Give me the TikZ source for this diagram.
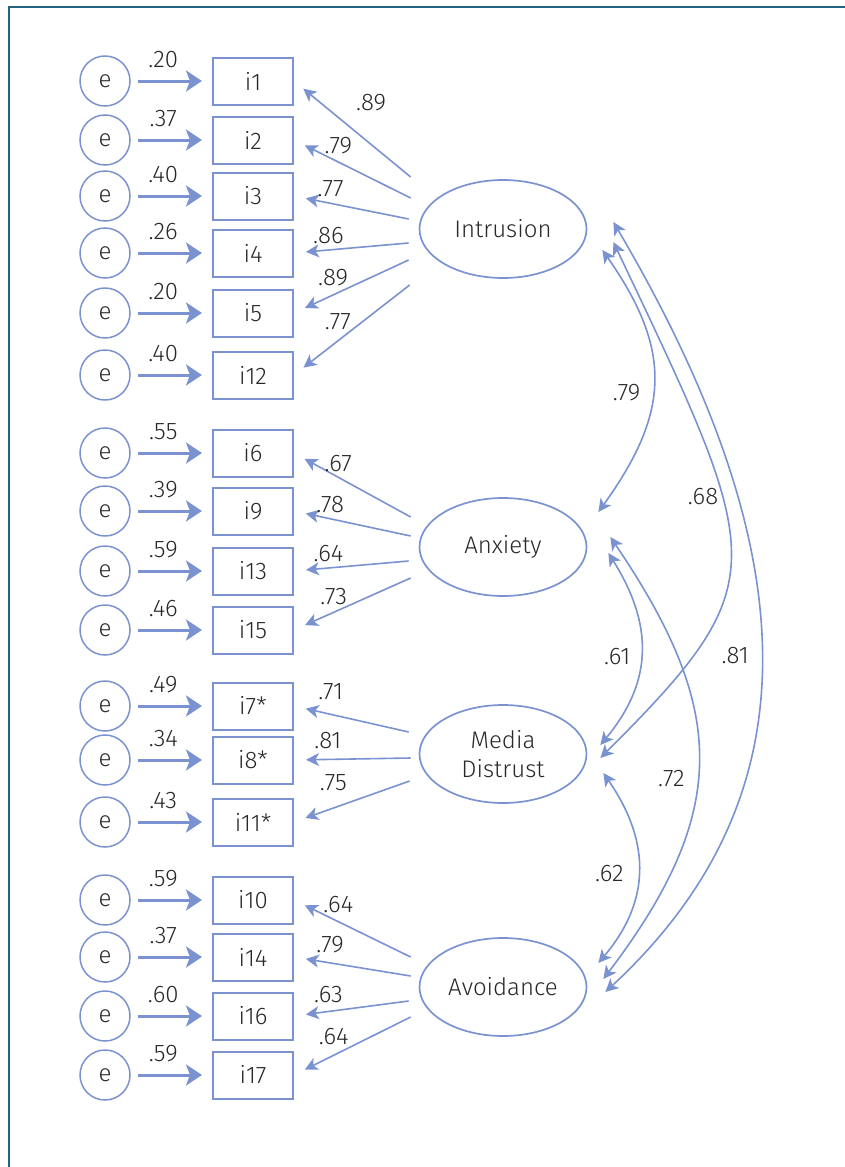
\documentclass[tikz,border=0pt]{standalone}
\usepackage{fontspec}
\setmainfont{Fira Sans Light}
\usetikzlibrary{arrows.meta}
\usetikzlibrary{positioning}
\usetikzlibrary{calc}
\usetikzlibrary{shapes.geometric}
\definecolor{semblue}{RGB}{122,146,207}
\definecolor{semtext}{RGB}{40,40,40}
\definecolor{frameteal}{RGB}{34,100,128}

\begin{document}
\begin{tikzpicture}[x=1pt,y=-1pt,->,>={Stealth[length=13pt,width=13pt,inset=3.5pt]},
					line width=1.6pt,color=semblue,text=semtext,node distance=148pt,
					font=\fontsize{24}{29}\selectfont]
					\tikzstyle{err}=[circle,draw,minimum size=50pt,inner sep=0pt,line width=1.5pt]
					\tikzstyle{item}=[rectangle,draw,minimum width=80pt,minimum height=47pt,inner sep=0pt,line width=2pt]
					\tikzstyle{latent}=[ellipse,draw,minimum width=167pt,minimum height=98pt,inner sep=0pt,line width=1.7pt,align=center]
					\tikzstyle{errpath}=[line width=3pt,-{Stealth[length=16pt,width=21pt,inset=4pt]},shorten <=7pt,shorten >=10pt]
					\tikzstyle{load}=[shorten >=12pt]
					\tikzstyle{cov}=[<->]
					\tikzstyle{lbl}=[inner sep=0pt]
					
					\useasboundingbox (0,0) rectangle (844,1167);
					\draw[-,line width=2.2pt,frameteal] (9,1170) -- (9,7) -- (850,7);
					
					% errors and items
					\node[err] (e1) at (105,81) {e};
					\node[item] (i1) [right of=e1] {i1};
					\node[err] (e2) at (105,140) {e};
					\node[item] (i2) [right of=e2] {i2};
					\node[err] (e3) at (105,196) {e};
					\node[item] (i3) [right of=e3] {i3};
					\node[err] (e4) at (105,253) {e};
					\node[item] (i4) [right of=e4] {i4};
					\node[err] (e5) at (105,313) {e};
					\node[item] (i5) [right of=e5] {i5};
					\node[err] (e12) at (105,375) {e};
					\node[item] (i12) [right of=e12] {i12};
					\node[err] (e6) at (105,453) {e};
					\node[item] (i6) [right of=e6] {i6};
					\node[err] (e9) at (105,511) {e};
					\node[item] (i9) [right of=e9] {i9};
					\node[err] (e13) at (105,571) {e};
					\node[item] (i13) [right of=e13] {i13};
					\node[err] (e15) at (105,630) {e};
					\node[item] (i15) [right of=e15] {i15};
					\node[err] (e7) at (105,706) {e};
					\node[item] (i7) [right of=e7] {i7*};
					\node[err] (e8) at (105,760) {e};
					\node[item] (i8) [right of=e8] {i8*};
					\node[err] (e11) at (105,822) {e};
					\node[item] (i11) [right of=e11] {i11*};
					\node[err] (e10) at (105,900) {e};
					\node[item] (i10) [right of=e10] {i10};
					\node[err] (e14) at (105,957) {e};
					\node[item] (i14) [right of=e14] {i14};
					\node[err] (e16) at (105,1016) {e};
					\node[item] (i16) [right of=e16] {i16};
					\node[err] (e17) at (105,1075) {e};
					\node[item] (i17) [right of=e17] {i17};
					
					% factors
					\node[latent] (intr)  at (503,229) {Intrusion};
					\node[latent] (anx)   at (503,547) {Anxiety};
					\node[latent] (media) at (503,754) {Media\\Distrust};
					\node[latent] (avoid) at (503,987) {Avoidance};
					
					\path (e1) edge[errpath] node[lbl,pos=.4,yshift=21pt] {.20} (i1)
					(e2) edge[errpath] node[lbl,pos=.4,yshift=21pt] {.37} (i2)
					(e3) edge[errpath] node[lbl,pos=.4,yshift=21pt] {.40} (i3)
					(e4) edge[errpath] node[lbl,pos=.4,yshift=21pt] {.26} (i4)
					(e5) edge[errpath] node[lbl,pos=.4,yshift=21pt] {.20} (i5)
					(e12) edge[errpath] node[lbl,pos=.4,yshift=21pt] {.40} (i12)
					(e6) edge[errpath] node[lbl,pos=.4,yshift=21pt] {.55} (i6)
					(e9) edge[errpath] node[lbl,pos=.4,yshift=21pt] {.39} (i9)
					(e13) edge[errpath] node[lbl,pos=.4,yshift=21pt] {.59} (i13)
					(e15) edge[errpath] node[lbl,pos=.4,yshift=21pt] {.46} (i15)
					(e7) edge[errpath] node[lbl,pos=.4,yshift=21pt] {.49} (i7)
					(e8) edge[errpath] node[lbl,pos=.4,yshift=21pt] {.34} (i8)
					(e11) edge[errpath] node[lbl,pos=.4,yshift=21pt] {.43} (i11)
					(e10) edge[errpath] node[lbl,pos=.4,yshift=21pt] {.59} (i10)
					(e14) edge[errpath] node[lbl,pos=.4,yshift=21pt] {.37} (i14)
					(e16) edge[errpath] node[lbl,pos=.4,yshift=21pt] {.60} (i16)
					(e17) edge[errpath] node[lbl,pos=.4,yshift=21pt] {.59} (i17);
					
					% loadings
					\path ($(intr.west)+(-8,-52)$) edge[load] node[lbl,pos=.34,yshift=42pt] {.89} (i1.east)
					($(intr.west)+(-8,-31)$) edge[load] node[lbl,pos=.62,yshift=16pt] {.79} (i2.east)
					($(intr.west)+(-10,-10)$) edge[load] node[lbl,pos=.68,yshift=15pt] {.77} (i3.east)
					($(intr.west)+(-10,14)$) edge[load] node[lbl,pos=.70,yshift=14pt] {.86} (i4.east)
					($(intr.west)+(-10,31)$) edge[load] node[lbl,pos=.66,yshift=17pt] {.89} (i5.east)
					($(intr.west)+(-9,56)$) edge[load] node[lbl,pos=.62,yshift=19pt] {.77} (i12.east);
					\path ($(anx.west)+(-8,-30)$) edge[load] node[lbl,pos=.62,yshift=14pt] {.67} (i6.east)
					($(anx.west)+(-8,-11)$) edge[load] node[lbl,pos=.69,yshift=14pt] {.78} (i9.east)
					($(anx.west)+(-10,14)$) edge[load] node[lbl,pos=.70,yshift=14pt] {.64} (i13.east)
					($(anx.west)+(-8,31)$) edge[load] node[lbl,pos=.66,yshift=16pt] {.73} (i15.east);
					\path ($(media.west)+(-10,-22)$) edge[load] node[lbl,pos=.68,yshift=23pt] {.71} (i7.east)
					($(media.west)+(-8,4)$) edge[load] node[lbl,pos=.71,yshift=19pt] {.81} (i8.east)
					($(media.west)+(-9,27)$) edge[load] node[lbl,pos=.66,yshift=25pt] {.75} (i11.east);
					\path ($(avoid.west)+(-8,-30)$) edge[load] node[lbl,pos=.62,yshift=17pt] {.64} (i10.east)
					($(avoid.west)+(-8,-11)$) edge[load] node[lbl,pos=.69,yshift=18pt] {.79} (i14.east)
					($(avoid.west)+(-10,14)$) edge[load] node[lbl,pos=.70,yshift=17pt] {.63} (i16.east)
					($(avoid.west)+(-8,30)$) edge[load] node[lbl,pos=.66,yshift=19pt] {.64} (i17.east);
					
					% correlations
					\draw[cov] ($(intr.east)+(15,21)$) .. controls +(70,100) and +(72,-100) .. ($(anx.east)+(11,-35)$)
					node[lbl,pos=.5,xshift=-27pt,yshift=-12pt] {.79};
					\draw[cov] ($(intr.east)+(26,13)$) .. controls +(152,320) and +(177,-177) .. ($(media.east)+(13,4)$)
					node[lbl,pos=.37,xshift=-19pt] {.68};
					\draw[cov] ($(intr.east)+(26,-7)$) .. controls +(200,340) and +(205,-190) .. ($(avoid.east)+(18,5)$)
					node[lbl,pos=.49,xshift=-26pt] {.81};
					\draw[cov] ($(anx.east)+(21,6)$) .. controls +(44,70) and +(54,-65) .. ($(media.east)+(13,-9)$)
					node[lbl,pos=.5,xshift=-24pt,yshift=-6pt] {.61};
					\draw[cov] ($(anx.east)+(23,-10)$) .. controls +(115,170) and +(129,-170) .. ($(avoid.east)+(16,-8)$)
					node[lbl,pos=.55,xshift=-26pt] {.72};
					\draw[cov] ($(media.east)+(16,19)$) .. controls +(45,65) and +(55,-65) .. ($(avoid.east)+(11,-24)$)
					node[lbl,pos=.5,xshift=-29pt,yshift=-6pt] {.62};
\end{tikzpicture}
\end{document}
